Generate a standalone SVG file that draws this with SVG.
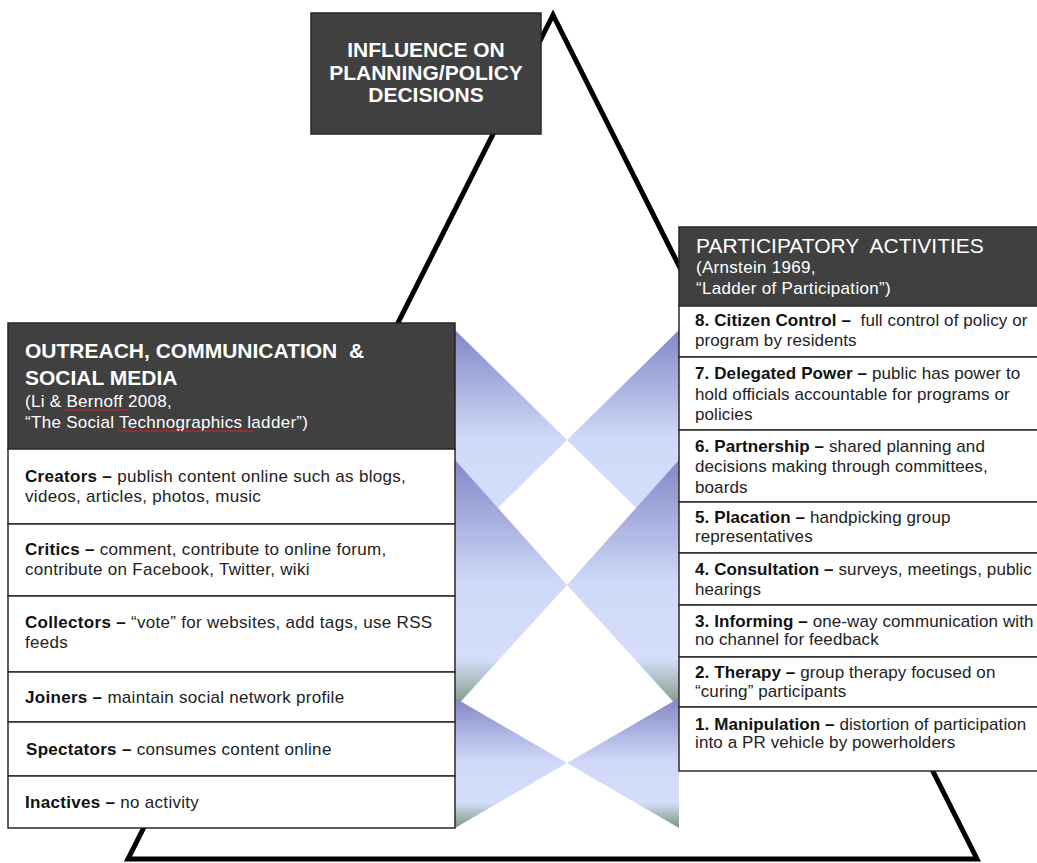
<svg xmlns="http://www.w3.org/2000/svg" width="1037" height="863" viewBox="0 0 1037 863">
<defs>
<linearGradient id="fade" x1="0" y1="0" x2="0" y2="1">
<stop offset="0" stop-color="#8387C6"/>
<stop offset="0.5" stop-color="#D0DAF8"/>
<stop offset="0.8" stop-color="#D4DEFC"/>
<stop offset="1" stop-color="#7E9580"/>
</linearGradient>
<style>
.dark{fill:#404040;stroke:#262626;stroke-width:1.5}
.box{fill:#ffffff;stroke:#2a2a2a;stroke-width:1.5}
.hw{font-family:"Liberation Sans",Arial,sans-serif;fill:#ffffff}
.ht{font-size:21px;font-weight:bold;white-space:pre}
.hr{font-size:21px;white-space:pre}
.sub{font-size:17px;letter-spacing:0.3px}
.t{font-family:"Liberation Sans",Arial,sans-serif;font-size:17px;letter-spacing:0.3px;fill:#222222;white-space:pre}
.r{letter-spacing:0.1px}
.b{font-weight:bold;fill:#111111}
.tri{fill:none;stroke:#000000;stroke-width:5;stroke-linejoin:miter}
.sq{fill:none;stroke:#e02020;stroke-width:1}
.sh{fill:url(#fade)}
</style>
</defs>
<rect width="1037" height="863" fill="#ffffff"/>

<g id="connectors">
<polygon class="tri" points="553,15 128,859 977,859"/>
<g id="fans">
<polygon class="sh" points="455,330 567,440 455,550"/>
<polygon class="sh" points="455,460 567,585 455,708"/>
<polygon class="sh" points="455,698 567,763 455,828"/>
<polygon class="sh" points="679,330 567,440 679,550"/>
<polygon class="sh" points="679,460 567,585 679,708"/>
<polygon class="sh" points="679,698 567,763 679,828"/>
</g>
</g>

<g id="influence">
<rect class="dark" x="311" y="13" width="230" height="121"/>
<text class="hw" font-size="21" font-weight="bold" text-anchor="middle"><tspan x="426" y="57">INFLUENCE ON</tspan><tspan x="426" y="80">PLANNING/POLICY</tspan><tspan x="426" y="102">DECISIONS</tspan></text>
</g>

<g id="outreach">
<rect class="dark" x="8" y="323" width="447" height="126"/>
<text class="hw ht" x="25" y="358">OUTREACH, COMMUNICATION  &amp;</text>
<text class="hw ht" x="25" y="385">SOCIAL MEDIA</text>
<text class="hw sub" x="25" y="407">(Li &amp; Bernoff 2008,</text>
<text class="hw sub" x="25" y="428">“The Social Technographics ladder”)</text>
<path class="sq" d="M63 411 l2 -2 l2 2 l2 -2 l2 2 l2 -2 l2 2 l2 -2 l2 2 l2 -2 l2 2 l2 -2 l2 2 l2 -2 l2 2 l2 -2 l2 2 l2 -2 l2 2 l2 -2 l2 2 l2 -2 l2 2 l2 -2 l2 2 l2 -2 l2 2 l2 -2 l2 2 l2 -2 l2 2 l2 -2 l2 2"/>
<path class="sq" d="M118 432 l2 -2 l2 2 l2 -2 l2 2 l2 -2 l2 2 l2 -2 l2 2 l2 -2 l2 2 l2 -2 l2 2 l2 -2 l2 2 l2 -2 l2 2 l2 -2 l2 2 l2 -2 l2 2 l2 -2 l2 2 l2 -2 l2 2 l2 -2 l2 2 l2 -2 l2 2 l2 -2 l2 2 l2 -2 l2 2 l2 -2 l2 2 l2 -2 l2 2 l2 -2 l2 2 l2 -2 l2 2 l2 -2 l2 2 l2 -2 l2 2 l2 -2 l2 2 l2 -2 l2 2 l2 -2 l2 2 l2 -2 l2 2 l2 -2 l2 2 l2 -2 l2 2 l2 -2 l2 2 l2 -2 l2 2 l2 -2 l2 2 l2 -2 l2 2 l2 -2 l2 2 l2 -2 l2 2"/>
</g>

<g id="creators">
<rect class="box" x="8" y="449" width="447" height="75"/>
<text class="t" x="25" y="482"><tspan class="b">Creators – </tspan>publish content online such as blogs,</text>
<text class="t" x="25" y="502">videos, articles, photos, music</text>
</g>
<g id="critics">
<rect class="box" x="8" y="524" width="447" height="72"/>
<text class="t" x="25" y="555"><tspan class="b">Critics – </tspan>comment, contribute to online forum,</text>
<text class="t" x="25" y="575">contribute on Facebook, Twitter, wiki</text>
</g>
<g id="collectors">
<rect class="box" x="8" y="596" width="447" height="76"/>
<text class="t" x="25" y="628"><tspan class="b">Collectors – </tspan>“vote” for websites, add tags, use RSS</text>
<text class="t" x="25" y="648">feeds</text>
</g>
<g id="joiners">
<rect class="box" x="8" y="672" width="447" height="50"/>
<text class="t" x="25" y="703"><tspan class="b">Joiners – </tspan>maintain social network profile</text>
</g>
<g id="spectators">
<rect class="box" x="8" y="722" width="447" height="54"/>
<text class="t" x="26" y="755"><tspan class="b">Spectators – </tspan>consumes content online</text>
</g>
<g id="inactives">
<rect class="box" x="8" y="776" width="447" height="52"/>
<text class="t" x="25" y="808"><tspan class="b">Inactives – </tspan>no activity</text>
</g>

<g id="participatory">
<rect class="dark" x="679" y="227" width="370" height="79"/>
<text class="hw hr" x="696" y="253">PARTICIPATORY  ACTIVITIES</text>
<text class="hw sub" x="696" y="273">(Arnstein 1969,</text>
<text class="hw sub" x="696" y="294">“Ladder of Participation”)</text>
</g>

<g id="level8">
<rect class="box" x="679" y="306" width="370" height="51"/>
<text class="t r" x="695" y="326"><tspan class="b">8. Citizen Control – </tspan> full control of policy or</text>
<text class="t r" x="695" y="346">program by residents</text>
</g>
<g id="level7">
<rect class="box" x="679" y="357" width="370" height="73"/>
<text class="t r" x="695" y="379"><tspan class="b">7. Delegated Power – </tspan>public has power to</text>
<text class="t r" x="695" y="400">hold officials accountable for programs or</text>
<text class="t r" x="695" y="420">policies</text>
</g>
<g id="level6">
<rect class="box" x="679" y="430" width="370" height="72"/>
<text class="t r" x="695" y="452"><tspan class="b">6. Partnership – </tspan>shared planning and</text>
<text class="t r" x="695" y="472">decisions making through committees,</text>
<text class="t r" x="695" y="493">boards</text>
</g>
<g id="level5">
<rect class="box" x="679" y="502" width="370" height="51"/>
<text class="t r" x="695" y="523"><tspan class="b">5. Placation – </tspan>handpicking group</text>
<text class="t r" x="695" y="542">representatives</text>
</g>
<g id="level4">
<rect class="box" x="679" y="553" width="370" height="52"/>
<text class="t r" x="695" y="575"><tspan class="b">4. Consultation – </tspan>surveys, meetings, public</text>
<text class="t r" x="695" y="595">hearings</text>
</g>
<g id="level3">
<rect class="box" x="679" y="605" width="370" height="52"/>
<text class="t r" x="695" y="627"><tspan class="b">3. Informing – </tspan>one-way communication with</text>
<text class="t r" x="695" y="645">no channel for feedback</text>
</g>
<g id="level2">
<rect class="box" x="679" y="657" width="370" height="50"/>
<text class="t r" x="695" y="678"><tspan class="b">2. Therapy – </tspan>group therapy focused on</text>
<text class="t r" x="695" y="697">“curing” participants</text>
</g>
<g id="level1">
<rect class="box" x="679" y="707" width="370" height="64"/>
<text class="t r" x="695" y="730"><tspan class="b">1. Manipulation – </tspan>distortion of participation</text>
<text class="t r" x="695" y="748">into a PR vehicle by powerholders</text>
</g>
</svg>
